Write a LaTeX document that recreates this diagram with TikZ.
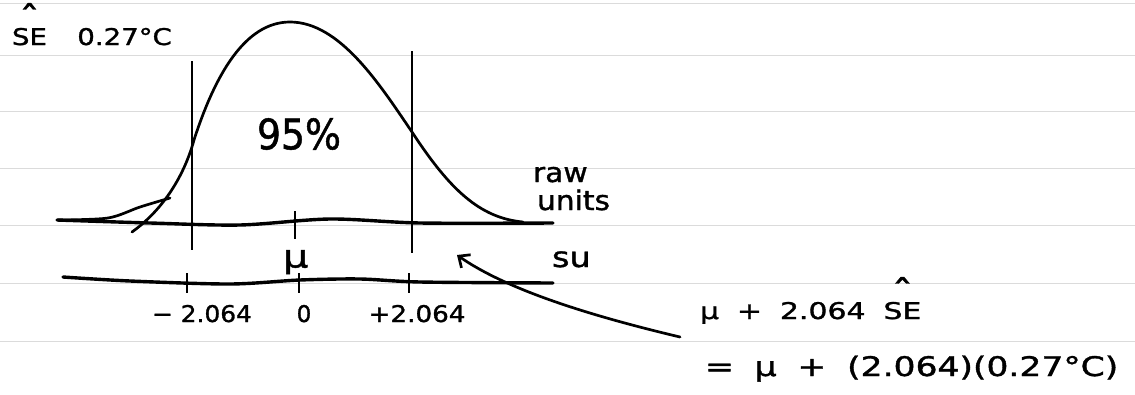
\documentclass[tikz,border=0pt]{standalone}
\usepackage{fontspec}
\setmainfont{DejaVu Sans}[FakeBold=1.2]
\usepackage{graphicx}
\usetikzlibrary{arrows.meta}
\newcommand{\sehat}{\ooalign{SE\cr\hidewidth\raisebox{0.62em}{\scalebox{1.5}{ˆ}}\hidewidth\cr}}
\newcommand{\hw}[2]{\scalebox{#1}[1]{#2}}
\begin{document}
\begin{tikzpicture}[x=1pt,y=-1pt,
  ink/.style={line width=2.7pt, line cap=round, line join=round},
  axisline/.style={line width=3.4pt, line cap=round},
  rule/.style={line width=2.2pt},
  tickmark/.style={line width=2.2pt},
  paper/.style={gray!28, line width=1pt},
  lbl/.style={inner sep=0pt, outer sep=0pt, text=black},
]
\useasboundingbox (0,0) rectangle (1135,394);
\fill[white] (0,0) rectangle (1135,394);
\foreach \yy in {3,55,111,168,225,283,341} \draw[paper] (0,\yy) -- (1135,\yy);

% texts
\node[lbl, anchor=base west, font=\fontsize{23}{28}\selectfont] (se) at (12,45) {\hw{1.2}{\sehat\hspace{1.1em}0.27°C}};
\node[lbl, font=\fontsize{42}{48}\selectfont] (pct) at (299,134) {\hw{0.9}{95\%}};
\node[lbl, anchor=base west, font=\fontsize{27}{30}\selectfont] (raw) at (533,182) {\hw{1.1}{raw}};
\node[lbl, anchor=base west, font=\fontsize{27}{30}\selectfont] (units) at (537,210) {\hw{1.1}{units}};
\node[lbl, anchor=base west, font=\fontsize{28}{30}\selectfont] (su) at (552,267) {\hw{1.2}{su}};
\node[lbl, anchor=base west, font=\fontsize{32}{36}\selectfont] (mu) at (283,267.5) {\hw{1.25}{μ}};
\node[lbl, anchor=base, font=\fontsize{23}{28}\selectfont] (lm) at (202,322) {\hw{1.08}{− 2.064}};
\node[lbl, anchor=base, font=\fontsize{23}{28}\selectfont] (lz) at (304,322) {0};
\node[lbl, anchor=base, font=\fontsize{23}{28}\selectfont] (lp) at (417,322) {\hw{1.14}{+2.064}};
\node[lbl, anchor=base west, font=\fontsize{23}{28}\selectfont] (f1) at (700,319) {\hw{1.3}{μ\hspace{0.6em}+\hspace{0.6em}2.064\hspace{0.6em}\sehat}};
\node[lbl, anchor=base west, font=\fontsize{27}{32}\selectfont] (f2) at (705,376) {\hw{1.28}{=\hspace{0.6em}μ\hspace{0.6em}+\hspace{0.6em}(2.064)(0.27°C)}};

% bell curve
\coordinate (lowend) at (132,232);
\coordinate (lcross) at (194,140);
\coordinate (peak) at (290,22);
\coordinate (rcross) at (412,132);
\coordinate (rend) at (523,222);
\draw[ink] (lowend) .. controls (160,212) and (183,180) .. (lcross)
  .. controls (215,75) and (245,22) .. (peak)
  .. controls (340,22) and (380,85) .. (rcross)
  .. controls (450,190) and (480,218) .. (rend);
\draw[ink] plot[smooth] coordinates {(58,220) (108,218) (140,207) (170,198)};

% raw-units axis
\draw[axisline] plot[smooth] coordinates {(57,220) (150,223) (240,225) (330,219) (420,223) (553,223)};
\draw[rule] (192,61) -- (192,250);
\draw[rule] (412,51) -- (412,253);
\draw[tickmark] (295,211) -- (295,239);

% su axis
\draw[axisline] plot[smooth] coordinates {(63,277) (130,281) (230,284) (300,280) (360,279) (420,282) (553,283)};
\foreach \xx in {187,299,409} \draw[tickmark] (\xx,273) -- (\xx,293);

% arrow
\coordinate (atail) at (680,337);
\coordinate (ahead) at (457,255);
\draw[ink, -{Straight Barb[length=9pt,width=16pt]}] (atail) .. controls (600,318) and (510,292) .. (ahead);
\end{tikzpicture}
\end{document}
